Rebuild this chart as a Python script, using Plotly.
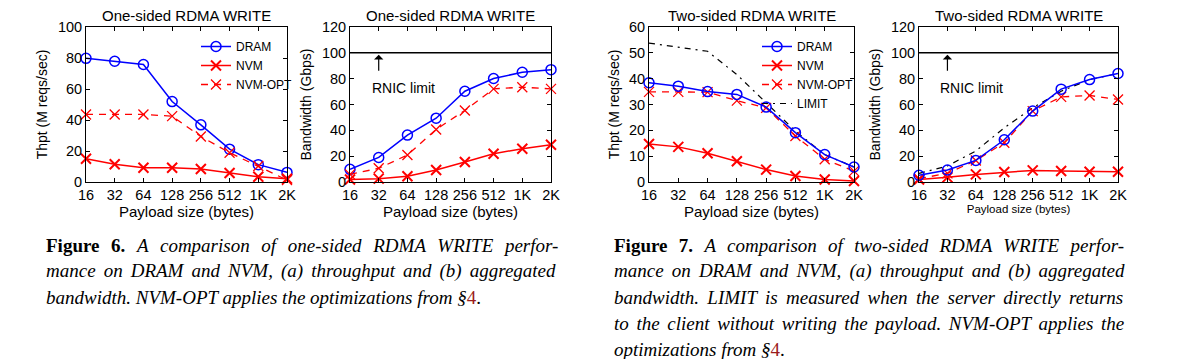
import plotly.graph_objects as go

# ---------------- data ----------------
sizes = ["16", "32", "64", "128", "256", "512", "1K", "2K"]

one_thpt_dram = [79.8, 77.9, 75.8, 51.9, 36.9, 21.2, 11.2, 6.2]
one_thpt_nvm = [15.0, 11.4, 9.2, 9.2, 8.4, 5.8, 3.4, 2.1]
one_thpt_nvmopt = [43.6, 43.6, 43.6, 42.5, 29.4, 18.9, 10.3, 1.3]

one_bw_dram = [9.8, 19.0, 36.3, 49.4, 70.3, 80.1, 85.0, 87.0]
one_bw_nvm = [2.0, 2.6, 4.4, 9.3, 15.5, 21.9, 25.8, 28.8]
one_bw_nvmopt = [5.9, 10.6, 20.9, 40.7, 55.4, 72.1, 73.4, 72.1]

two_thpt_dram = [38.4, 37.1, 35.0, 33.9, 29.0, 19.1, 10.6, 5.8]
two_thpt_nvm = [14.7, 13.6, 11.1, 8.0, 4.8, 2.3, 1.0, 0.4]
two_thpt_nvmopt = [34.9, 34.9, 34.8, 31.5, 28.7, 17.8, 8.8, 4.2]
two_thpt_limit = [53.8, 52.1, 50.6, 41.6, 30.6, 19.7, 10.6, 5.8]

two_bw_dram = [5.2, 9.3, 16.7, 32.7, 54.9, 71.9, 79.3, 84.0]
two_bw_nvm = [2.0, 3.6, 5.9, 7.7, 9.0, 8.5, 8.0, 8.0]
two_bw_nvmopt = [2.6, 6.7, 16.7, 30.4, 54.9, 65.9, 67.0, 63.9]
two_bw_limit = [6.7, 12.4, 24.0, 42.0, 57.4, 70.3, 79.3, 84.0]

rnic_limit = 100

titles = ["One-sided RDMA WRITE", "One-sided RDMA WRITE",
          "Two-sided RDMA WRITE", "Two-sided RDMA WRITE"]
ytitles = ["Thpt (M reqs/sec)", "Bandwidth (Gbps)",
           "Thpt (M reqs/sec)", "Bandwidth (Gbps)"]
xtitle = "Payload size (bytes)"

# ---------------- layout helpers ----------------
W, H = 1185, 359
BLUE = "#0000ff"
RED = "#ff0000"
FONT = "Liberation Sans"

def px(x):
    return x / W

def py(y):
    return 1 - y / H

# panel pixel boxes (left, right)
boxes = [(86, 287), (350, 551), (649, 854), (919, 1118)]
top, bottom = 27, 182
yranges = [(0, 100, 20), (0, 120, 20), (0, 60, 10), (0, 120, 20)]

xs = list(range(len(sizes)))

fig = go.Figure()

def add(i, y, name, kind, legend=None, show=False, rank=None):
    xa = "x" if i == 0 else f"x{i+1}"
    ya = "y" if i == 0 else f"y{i+1}"
    if kind == "dram":
        line = dict(color=BLUE, width=1.5)
        marker = dict(symbol="circle-open", size=10, color=BLUE, line=dict(width=1.5, color=BLUE))
        mode = "lines+markers"
    elif kind == "nvm":
        line = dict(color=RED, width=1.5)
        marker = dict(symbol="x-thin-open", size=10, color=RED, line=dict(width=2, color=RED))
        mode = "lines+markers"
    elif kind == "opt":
        line = dict(color=RED, width=1.3, dash="7px,6px")
        marker = dict(symbol="x-thin-open", size=10, color=RED, line=dict(width=1.3, color=RED))
        mode = "lines+markers"
    else:
        line = dict(color="black", width=1.2, dash="6px,5px,2px,5px")
        marker = None
        mode = "lines"
    tr = go.Scatter(x=xs, y=y, name=name, mode=mode, line=line,
                    xaxis=xa, yaxis=ya, cliponaxis=False,
                    showlegend=show)
    if marker:
        tr.marker = marker
    if legend:
        tr.legend = legend
    if rank is not None:
        tr.legendrank = rank
    fig.add_trace(tr)

# panel 1
add(0, one_thpt_dram, "DRAM", "dram", "legend", True, 1)
add(0, one_thpt_nvm, "NVM", "nvm", "legend", True, 2)
add(0, one_thpt_nvmopt, "NVM-OPT", "opt", "legend", True, 3)
# panel 2
add(1, one_bw_dram, "DRAM", "dram")
add(1, one_bw_nvm, "NVM", "nvm")
add(1, one_bw_nvmopt, "NVM-OPT", "opt")
# panel 3
add(2, two_thpt_limit, "LIMIT", "limit", "legend2", True, 4)
add(2, two_thpt_nvm, "NVM", "nvm", "legend2", True, 2)
add(2, two_thpt_nvmopt, "NVM-OPT", "opt", "legend2", True, 3)
add(2, two_thpt_dram, "DRAM", "dram", "legend2", True, 1)
# panel 4
add(3, two_bw_limit, "LIMIT", "limit")
add(3, two_bw_nvm, "NVM", "nvm")
add(3, two_bw_nvmopt, "NVM-OPT", "opt")
add(3, two_bw_dram, "DRAM", "dram")

layout = dict(
    width=W, height=H,
    margin=dict(l=0, r=0, t=0, b=0, autoexpand=False),
    paper_bgcolor="white", plot_bgcolor="white",
    font=dict(family=FONT, color="black", size=13),
    legend=dict(x=px(196), y=py(32), xanchor="left", yanchor="top",
                bgcolor="rgba(0,0,0,0)", font=dict(size=12, family=FONT),
                itemwidth=30, tracegroupgap=0, traceorder="normal"),
    legend2=dict(x=px(757), y=py(32), xanchor="left", yanchor="top",
                 bgcolor="rgba(0,0,0,0)", font=dict(size=12, family=FONT),
                 itemwidth=30, tracegroupgap=0, traceorder="normal"),
)

annotations = []
shapes = []
for i in range(4):
    l, r = boxes[i]
    sfx = "" if i == 0 else str(i + 1)
    y0, y1, dt = yranges[i]
    layout[f"xaxis{sfx}"] = dict(
        domain=[px(l), px(r)], anchor=f"y{sfx}", range=[0, 7],
        tickmode="array", tickvals=xs, ticktext=sizes,
        showline=True, linecolor="black", linewidth=1, mirror="ticks",
        ticks="inside", ticklen=4, tickcolor="black",
        showgrid=False, zeroline=False, automargin=False,
        tickfont=dict(size=14.5, family=FONT),
        title=dict(text=xtitle, font=dict(size=11.5 if i == 3 else 15, family=FONT), standoff=0),
    )
    layout[f"yaxis{sfx}"] = dict(
        domain=[py(bottom), py(top)], anchor=f"x{sfx}", range=[y0, y1],
        tickmode="linear", tick0=0, dtick=dt,
        showline=True, linecolor="black", linewidth=1, mirror="ticks",
        ticks="inside", ticklen=4, tickcolor="black",
        showgrid=False, zeroline=False, automargin=False,
        tickfont=dict(size=14.5, family=FONT),
        title=dict(text=ytitles[i], font=dict(size=14, family=FONT), standoff=6),
    )
    annotations.append(dict(
        text=titles[i], x=px((l + r) / 2), y=py(15), xref="paper", yref="paper",
        showarrow=False, xanchor="center", yanchor="middle",
        font=dict(size=15, family=FONT)))

# RNIC limit lines and arrows on bandwidth panels
for i in (1, 3):
    sfx = str(i + 1)
    shapes.append(dict(type="line", xref=f"x{sfx} domain", yref=f"y{sfx}",
                       x0=0, x1=1, y0=rnic_limit, y1=rnic_limit,
                       line=dict(color="black", width=1.5)))
    annotations.append(dict(
        x=1, y=rnic_limit - 1.5, ax=1, ay=rnic_limit - 15,
        xref=f"x{sfx}", yref=f"y{sfx}", axref=f"x{sfx}", ayref=f"y{sfx}",
        text="", showarrow=True, arrowhead=1, arrowsize=1.3, arrowwidth=1.2,
        arrowcolor="black", standoff=0, startstandoff=0))
    annotations.append(dict(
        x=1.85, y=73, xref=f"x{sfx}", yref=f"y{sfx}", text="RNIC limit",
        showarrow=False, xanchor="center", yanchor="middle",
        font=dict(size=14, family=FONT)))

# captions (word spacing emulates the justified lines)
SERIF = "Liberation Serif"
sec = "<span style='color:#9b1c1c'>4</span>"
cap6 = [
    ("<b>Figure 6.</b> <i>A comparison of one-sided RDMA WRITE perfor-</i>", 6.9),
    ("<i>mance on DRAM and NVM, (a) throughput and (b) aggregated</i>", 3.3),
    ("<i>bandwidth. NVM-OPT applies the optimizations from §</i>" + sec + ".", 0),
]
cap7 = [
    ("<b>Figure 7.</b> <i>A comparison of two-sided RDMA WRITE perfor-</i>", 6.6),
    ("<i>mance on DRAM and NVM, (a) throughput and (b) aggregated</i>", 3.4),
    ("<i>bandwidth. LIMIT is measured when the server directly returns</i>", 3.6),
    ("<i>to the client without writing the payload. NVM-OPT applies the</i>", 2.9),
    ("<i>optimizations from §</i>" + sec + ".", 0),
]

def cap_text(t, ws):
    if ws:
        return f"<span style='word-spacing:{ws}px'>{t}</span>"
    return t

for x0, cap in ((44, cap6), (612, cap7)):
    for k, (t, ws) in enumerate(cap):
        annotations.append(dict(text=cap_text(t, ws), x=px(x0), y=py(245 + 26 * k),
                                xref="paper", yref="paper",
                                showarrow=False, xanchor="left", yanchor="middle",
                                font=dict(size=19, family=SERIF, color="black")))

layout["annotations"] = annotations
layout["shapes"] = shapes
fig.update_layout(**layout)

fig.write_html(
    "out.html",
    config={"displayModeBar": False},
    post_script="document.body.style.margin='0';document.body.style.overflow='hidden';"
                "document.documentElement.style.overflow='hidden';",
)
